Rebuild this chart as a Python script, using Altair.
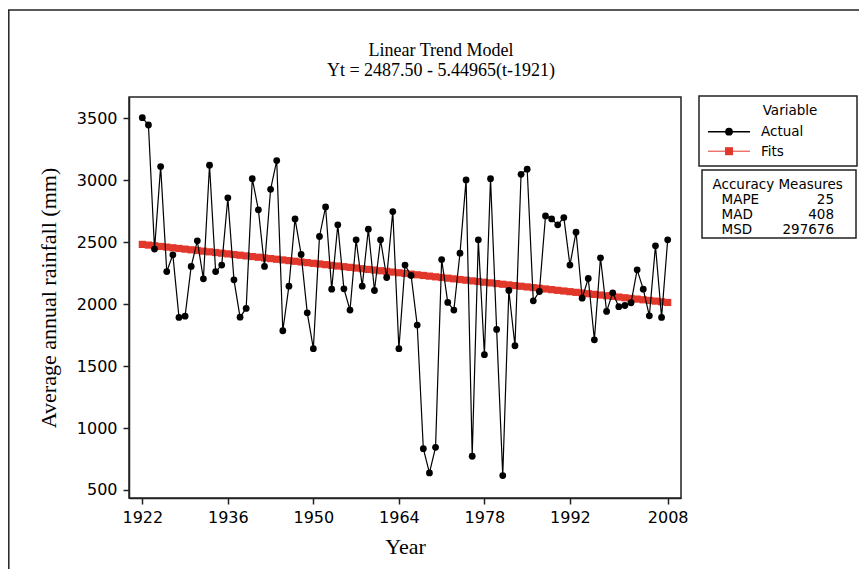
import altair as alt
import pandas as pd

# ---------------- data ----------------
FIRST_YEAR = 1922
LAST_YEAR = 2008
ACTUAL = [
    3505, 3446, 2444, 3110, 2263, 2398, 1893, 1903, 2304, 2511,   # 1922-1931
    2204, 3121, 2263, 2315, 2858, 2196, 1895, 1965, 3013, 2761,   # 1932-1941
    2304, 2927, 3159, 1785, 2145, 2688, 2401, 1930, 1640, 2546,   # 1942-1951
    2785, 2121, 2640, 2124, 1952, 2519, 2145, 2605, 2110, 2519,   # 1952-1961
    2215, 2747, 1640, 2315, 2231, 1831, 833, 637, 844, 2360,      # 1962-1971
    2014, 1952, 2411, 3003, 772, 2519, 1592, 3013, 1796, 616,     # 1972-1981
    2110, 1664, 3048, 3089, 2027, 2102, 2712, 2688, 2640, 2699,   # 1982-1991
    2315, 2581, 2048, 2207, 1712, 2374, 1941, 2091, 1979, 1989,   # 1992-2001
    2011, 2277, 2121, 1906, 2471, 1893, 2519,                     # 2002-2008
]
# Fitted trend, as printed in the chart title: Yt = 2487.50 - 5.44965(t-1921)
TREND_INTERCEPT = 2487.50
TREND_SLOPE = -5.44965
TREND_ORIGIN = 1921

X_TICKS = [1922, 1936, 1950, 1964, 1978, 1992, 2008]
Y_TICKS = [500, 1000, 1500, 2000, 2500, 3000, 3500]

TITLE_LINES = ["Linear Trend Model", "Yt = 2487.50 - 5.44965(t-1921)"]
LEGEND_TITLE = "Variable"
SERIES = ["Actual", "Fits"]
ACC_TITLE = "Accuracy Measures"
ACC_NAMES = ["MAPE", "MAD", "MSD"]
ACC_VALUES = ["25", "408", "297676"]

years = list(range(FIRST_YEAR, LAST_YEAR + 1))
fits = [TREND_INTERCEPT + TREND_SLOPE * (yr - TREND_ORIGIN) for yr in years]
df = pd.DataFrame({"Year": years, "Actual": ACTUAL, "Fits": fits})

# ---------------- styling ----------------
BLACK = "#000000"
RED = "#e2372b"
FRAME = "#222222"
SANS = "DejaVu Sans"
SERIF = "Liberation Serif"

W, H = 552, 401
PAD_L, PAD_T = 121, 89
PAD_R = 867 - 16 - PAD_L - W
PAD_B = 577 - 16 - PAD_T - H

xscale = alt.Scale(domain=[1919.82, 2010.18], nice=False, zero=False)
yscale = alt.Scale(domain=[435, 3672], nice=False, zero=False)
xaxis = alt.Axis(values=X_TICKS, format="d", title="Year", titleY=55,
                 titleBaseline="alphabetic", labelPadding=5)
yaxis = alt.Axis(values=Y_TICKS, format="d", title="Average annual rainfall (mm)",
                 titleX=-74, titleBaseline="alphabetic", labelPadding=6)

base = alt.Chart(df)

fit_line = base.mark_line(color=RED, strokeWidth=1).encode(
    x=alt.X("Year:Q", scale=xscale, axis=xaxis),
    y=alt.Y("Fits:Q", scale=yscale, axis=yaxis),
)
fit_pts = base.mark_point(shape="square", filled=True, color=RED, size=52, opacity=1).encode(
    x=alt.X("Year:Q", scale=xscale, axis=xaxis),
    y=alt.Y("Fits:Q", scale=yscale, axis=yaxis),
)
act_line = base.mark_line(color=BLACK, strokeWidth=1.2).encode(
    x=alt.X("Year:Q", scale=xscale, axis=xaxis),
    y=alt.Y("Actual:Q", scale=yscale, axis=yaxis),
)
act_pts = base.mark_point(shape="circle", filled=True, color=BLACK, size=46, opacity=1).encode(
    x=alt.X("Year:Q", scale=xscale, axis=xaxis),
    y=alt.Y("Actual:Q", scale=yscale, axis=yaxis),
)

one = pd.DataFrame({"k": [0]})

# outer figure frame (top and left edges)
frame_top = alt.Chart(one).mark_rule(color=FRAME, strokeWidth=1.5).encode(
    x=alt.value(-PAD_L), x2=alt.value(W + PAD_R), y=alt.value(-87))
frame_left = alt.Chart(one).mark_rule(color=FRAME, strokeWidth=1.5).encode(
    x=alt.value(-PAD_L + 0.8), y=alt.value(-87), y2=alt.value(H + PAD_B + 10))

# title lines
title_layers = []
for i, line in enumerate(TITLE_LINES):
    title_layers.append(
        alt.Chart(pd.DataFrame({"t": [line]})).mark_text(
            font=SERIF, fontSize=18, color=BLACK, align="center", baseline="alphabetic"
        ).encode(text="t:N", x=alt.value(312), y=alt.value(-41.5 + 20 * i))
    )

# legend box "Variable"
LEG_FS = 13.5
leg_box = alt.Chart(one).mark_rect(fill="white", stroke=FRAME, strokeWidth=1.5).encode(
    x=alt.value(570), x2=alt.value(728), y=alt.value(-1), y2=alt.value(69))
leg_title = alt.Chart(pd.DataFrame({"t": [LEGEND_TITLE]})).mark_text(
    font=SANS, fontSize=LEG_FS, color=BLACK, align="center", baseline="alphabetic"
).encode(text="t:N", x=alt.value(661), y=alt.value(18))

leg_layers = []
for i, (name, col, shp, sz, sw) in enumerate(
        zip(SERIES, [BLACK, RED], ["circle", "square"], [60, 64], [1.5, 1])):
    yy = 34.7 + 19.5 * i
    d = pd.DataFrame({"t": [name]})
    leg_layers.append(alt.Chart(d).mark_rule(color=col, strokeWidth=sw).encode(
        x=alt.value(579), x2=alt.value(621), y=alt.value(yy)))
    leg_layers.append(alt.Chart(d).mark_point(shape=shp, filled=True, color=col, size=sz, opacity=1).encode(
        x=alt.value(600), y=alt.value(yy)))
    leg_layers.append(alt.Chart(d).mark_text(
        font=SANS, fontSize=LEG_FS, color=BLACK, align="left", baseline="alphabetic"
    ).encode(text="t:N", x=alt.value(632), y=alt.value(yy + 4.5)))

# accuracy measures box
acc_box = alt.Chart(one).mark_rect(fill="white", stroke=FRAME, strokeWidth=1.5).encode(
    x=alt.value(573), x2=alt.value(727), y=alt.value(73), y2=alt.value(141))
acc_title = alt.Chart(pd.DataFrame({"t": [ACC_TITLE]})).mark_text(
    font=SANS, fontSize=LEG_FS, color=BLACK, align="left", baseline="alphabetic"
).encode(text="t:N", x=alt.value(583.5), y=alt.value(92))
acc_layers = []
for i, (nm, vl) in enumerate(zip(ACC_NAMES, ACC_VALUES)):
    yy = 107 + 15 * i
    acc_layers.append(alt.Chart(pd.DataFrame({"t": [nm]})).mark_text(
        font=SANS, fontSize=LEG_FS, color=BLACK, align="left", baseline="alphabetic"
    ).encode(text="t:N", x=alt.value(592.5), y=alt.value(yy)))
    acc_layers.append(alt.Chart(pd.DataFrame({"t": [vl]})).mark_text(
        font=SANS, fontSize=LEG_FS, color=BLACK, align="right", baseline="alphabetic"
    ).encode(text="t:N", x=alt.value(705), y=alt.value(yy)))

chart = alt.layer(
    fit_line, fit_pts, act_line, act_pts,
    frame_top, frame_left, *title_layers,
    leg_box, leg_title, *leg_layers,
    acc_box, acc_title, *acc_layers,
).properties(
    width=W, height=H,
    autosize=alt.AutoSizeParams(type="none"),
    padding={"left": PAD_L, "top": PAD_T, "right": PAD_R, "bottom": PAD_B},
    background="white",
).configure_view(
    stroke=FRAME, strokeWidth=1.5
).configure_axis(
    grid=False,
    domainColor=FRAME, domainWidth=1.5,
    tickColor=FRAME, tickWidth=1.5, tickSize=6,
    labelFont=SANS, labelFontSize=16, labelColor=BLACK,
    titleFont=SERIF, titleFontSize=22, titleFontWeight="normal", titleColor=BLACK,
)

chart.save("out.html", embed_options={"renderer": "svg", "actions": False})
